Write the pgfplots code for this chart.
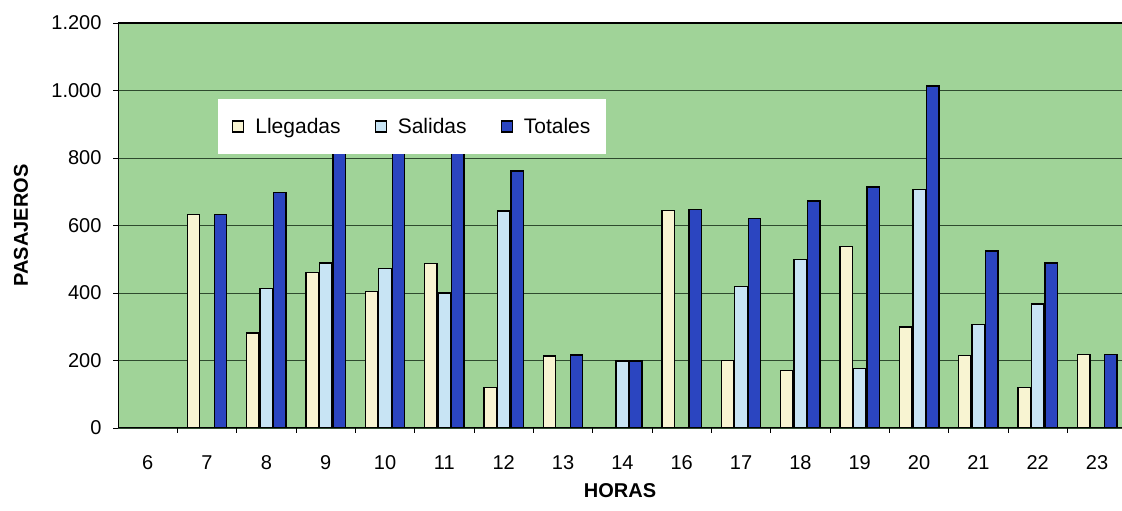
\documentclass[border=0pt]{standalone}
\usepackage{fontspec}
\setmainfont{Liberation Sans}
\usepackage{pgfplots}
\pgfplotsset{compat=1.18}
\definecolor{bg}{HTML}{A0D398}
\definecolor{lleg}{HTML}{F8F4D2}
\definecolor{sal}{HTML}{C8E4F4}
\definecolor{tot}{HTML}{2B45C0}
\definecolor{gridc}{HTML}{2E4A2E}
\newcommand{\f}{\fontsize{20bp}{24bp}\selectfont}
\newcommand{\fl}{\fontsize{21bp}{25bp}\selectfont}
\begin{document}
\begin{tikzpicture}
\useasboundingbox (0,0) rectangle (1122bp,511bp);
\begin{axis}[
  at={(118bp,83bp)}, anchor=south west,
  scale only axis, width=1004bp, height=405bp,
  xmin=-0.5, xmax=16.42, ymin=0, ymax=1200,
  ybar=1bp, bar width=12.5bp,
  axis background/.style={fill=bg},
  axis line style={draw=none},
  xtick={0.5,1.5,...,15.5},
  xticklabels={},
  extra x ticks={0,...,16},
  extra x tick labels={6,7,8,9,10,11,12,13,14,16,17,18,19,20,21,22,23},
  extra x tick style={major tick length=0pt},
  ytick={0,200,...,1200},
  yticklabels={0,200,400,600,800,{1.000},{1.200}},
  tick align=outside, tick pos=left,
  major tick length=5bp,
  tick style={black, line width=0.8bp},
  ymajorgrids,
  grid style={gridc, line width=0.9bp},
  ticklabel style={font=\f},
  xticklabel style={yshift=-24bp},
  yticklabel style={xshift=-8bp},
  xlabel={\bfseries HORAS},
  ylabel={\bfseries PASAJEROS},
  every axis x label/.style={at={(axis description cs:0.5,0)}, yshift=-63bp, anchor=center, font=\f},
  every axis y label/.style={at={(axis description cs:0,0.5)}, xshift=-97bp, anchor=center, rotate=90, font=\f},
  legend columns=3,
  legend style={at={(0.0996,0.8123)}, anchor=north west, draw=none, fill=white,
    font=\fl, inner xsep=14bp, inner ysep=17bp,
    /tikz/every odd column/.append style={column sep=9bp},
    /tikz/every even column/.append style={column sep=32bp}},
  legend image code/.code={\draw[#1,line width=1.2bp] (0bp,-5.5bp) rectangle (11bp,5.5bp);},
]
\addplot[draw=black, line width=1.4bp, fill=lleg] coordinates {
(0,0) (1,632) (2,281) (3,460) (4,405) (5,487) (6,120) (7,213) (8,0)
(9,645) (10,200) (11,171) (12,538) (13,299) (14,215) (15,120) (16,218)};
\addplot[draw=black, line width=1.4bp, fill=sal] coordinates {
(0,0) (1,0) (2,413) (3,489) (4,472) (5,400) (6,643) (7,0) (8,198)
(9,0) (10,420) (11,499) (12,176) (13,706) (14,307) (15,367) (16,0)};
\addplot[draw=black, line width=1.4bp, fill=tot] coordinates {
(0,0) (1,632) (2,697) (3,949) (4,877) (5,887) (6,761) (7,216) (8,198)
(9,648) (10,620) (11,672) (12,714) (13,1013) (14,524) (15,489) (16,218)};
\legend{Llegadas, Salidas, Totales}
\draw[black, line width=1.5bp] (rel axis cs:0,0) -- (rel axis cs:0,1) -- (rel axis cs:1,1);
\draw[black, line width=1.5bp] (rel axis cs:0,0) -- (rel axis cs:1,0);
\end{axis}
\end{tikzpicture}
\end{document}
